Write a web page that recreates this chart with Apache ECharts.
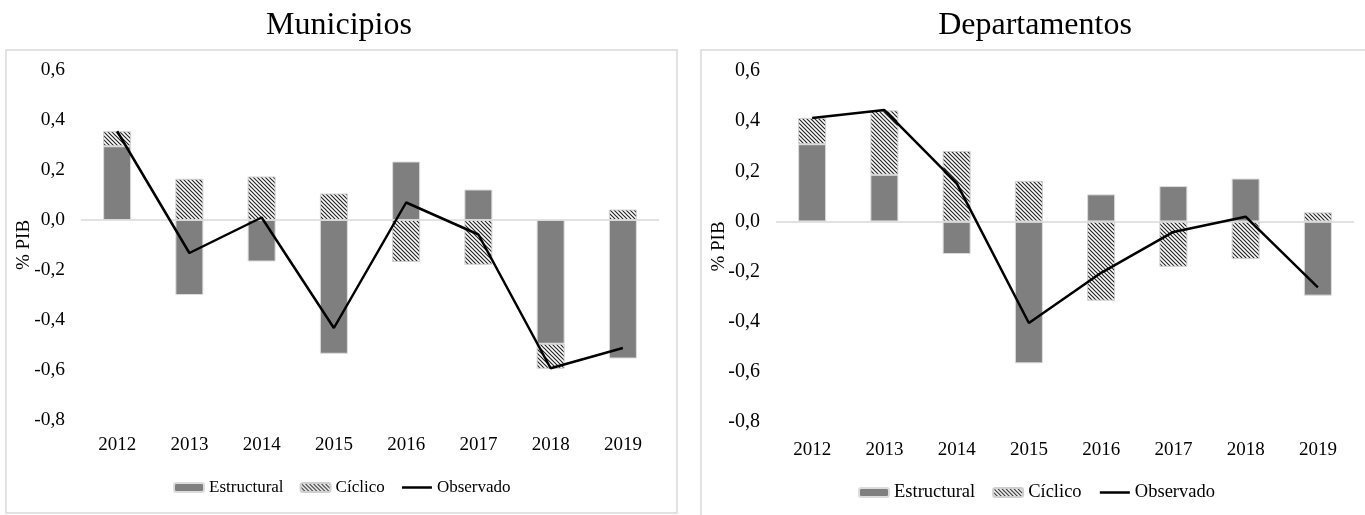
<!DOCTYPE html>
<html>
<head>
<meta charset="utf-8">
<script src="https://cdn.jsdelivr.net/npm/echarts@6/dist/echarts.min.js"></script>
<style>
  html, body { margin: 0; padding: 0; background: #fff; }
  #chart { width: 1365px; height: 515px; }
</style>
</head>
<body>
<div id="chart"></div>
<script>
// Balance fiscal: componentes estructural y cíclico (% del PIB)
const years = ['2012', '2013', '2014', '2015', '2016', '2017', '2018', '2019'];

const muniEstructural = [0.295, -0.300, -0.166, -0.535, 0.234, 0.122, -0.495, -0.554];
const muniCiclico     = [0.060, 0.165, 0.174, 0.106, -0.168, -0.179, -0.100, 0.042];
const muniObservado   = [0.355, -0.132, 0.010, -0.432, 0.070, -0.058, -0.593, -0.512];

const deptoEstructural = [0.308, 0.186, -0.130, -0.566, 0.108, 0.141, 0.171, -0.296];
const deptoCiclico     = [0.105, 0.257, 0.281, 0.162, -0.316, -0.181, -0.150, 0.036];
const deptoObservado   = [0.413, 0.444, 0.153, -0.405, -0.205, -0.042, 0.019, -0.263];

const panelTitles = ['Municipios', 'Departamentos'];
const seriesNames = ['Estructural', 'Cíclico', 'Observado'];

const FONT = '"Liberation Serif", "Times New Roman", serif';

// Fine diagonal hatch used for the cyclical component
function hatchCanvas() {
  const s = 4;
  const c = document.createElement('canvas');
  c.width = s; c.height = s;
  const g = c.getContext('2d');
  g.fillStyle = '#ffffff';
  g.fillRect(0, 0, s, s);
  g.strokeStyle = '#262626';
  g.lineWidth = 1.2;
  g.beginPath();
  g.moveTo(-1, -1); g.lineTo(s + 1, s + 1);
  g.moveTo(-1, s - 1); g.lineTo(1, s + 1);
  g.moveTo(s - 1, -1); g.lineTo(s + 1, 1);
  g.stroke();
  return c;
}
const hatch = { image: hatchCanvas(), repeat: 'repeat' };

function fmt(v) {
  return v.toFixed(1).replace('.', ',');
}

function xAxisFor(idx, margin) {
  return {
    type: 'category', gridIndex: idx, data: years,
    axisLine: { show: false }, axisTick: { show: false },
    axisLabel: { fontFamily: FONT, fontSize: 19, color: '#000', margin: margin }
  };
}
function yAxisFor(idx, labelSize) {
  return {
    type: 'value', gridIndex: idx, min: -0.8, max: 0.6, interval: 0.2,
    axisLine: { show: false }, axisTick: { show: false }, splitLine: { show: false },
    axisLabel: { fontFamily: FONT, fontSize: labelSize, color: '#000', margin: 16, formatter: fmt },
    name: '% PIB', nameLocation: 'middle', nameRotate: 90, nameGap: 47,
    nameMoveOverlap: false,
    nameTextStyle: { fontFamily: FONT, fontSize: 19, color: '#000' }
  };
}
function seriesFor(idx, est, cic, obs) {
  const stack = 'comp' + idx;
  return [
    {
      name: seriesNames[0], type: 'bar', xAxisIndex: idx, yAxisIndex: idx, stack: stack,
      barWidth: 28, data: est,
      itemStyle: { color: '#7f7f7f', borderColor: '#dcdcdc', borderWidth: 1 }
    },
    {
      name: seriesNames[1], type: 'bar', xAxisIndex: idx, yAxisIndex: idx, stack: stack,
      barWidth: 28, data: cic,
      itemStyle: { color: hatch, borderColor: '#d0d0d0', borderWidth: 1 }
    },
    {
      name: seriesNames[2], type: 'line', xAxisIndex: idx, yAxisIndex: idx, data: obs,
      symbol: 'none', lineStyle: { color: '#000', width: 2.5 }, itemStyle: { color: '#000' },
      z: 5,
      markLine: {
        silent: true, symbol: 'none', label: { show: false },
        lineStyle: { color: '#d9d9d9', type: 'solid', width: 1.5 },
        data: [{ yAxis: 0 }]
      }
    }
  ];
}
function legendFor(left, top, size, gap) {
  return {
    left: left, top: top, itemWidth: 30, itemHeight: 9, itemGap: gap,
    textStyle: { fontFamily: FONT, fontSize: size, color: '#000' },
    lineStyle: { width: 2.5 },
    data: [
      { name: seriesNames[0] },
      { name: seriesNames[1] },
      { name: seriesNames[2], itemStyle: { opacity: 0 } }
    ],
    selectedMode: false
  };
}

const chart = echarts.init(document.getElementById('chart'), null, { renderer: 'canvas' });
chart.setOption({
  animation: false,
  backgroundColor: '#ffffff',
  title: [
    { text: panelTitles[0], left: 334, top: 21, textAlign: 'center', textVerticalAlign: 'middle',
      textStyle: { fontFamily: FONT, fontSize: 32, fontWeight: 'normal', color: '#000' } },
    { text: panelTitles[1], left: 1030, top: 21, textAlign: 'center', textVerticalAlign: 'middle',
      textStyle: { fontFamily: FONT, fontSize: 32, fontWeight: 'normal', color: '#000' } }
  ],
  graphic: [
    { type: 'rect', silent: true, z: -10, shape: { x: 6, y: 50, width: 671, height: 463 },
      style: { fill: 'none', stroke: '#d9d9d9', lineWidth: 1.5 } },
    { type: 'rect', silent: true, z: -10, shape: { x: 701, y: 50, width: 700, height: 480 },
      style: { fill: 'none', stroke: '#d9d9d9', lineWidth: 1.5 } }
  ],
  legend: [
    Object.assign(legendFor(168, 474, 17, 16), { seriesIndex: [0, 1, 2] }),
    Object.assign(legendFor(853, 478, 18.5, 17), { seriesIndex: [3, 4, 5] })
  ],
  grid: [
    { left: 81, top: 70, width: 578, height: 350 },
    { left: 776, top: 71, width: 578, height: 351 }
  ],
  xAxis: [xAxisFor(0, 16), xAxisFor(1, 19)],
  yAxis: [yAxisFor(0, 19.5), yAxisFor(1, 20)],
  series: seriesFor(0, muniEstructural, muniCiclico, muniObservado)
    .concat(seriesFor(1, deptoEstructural, deptoCiclico, deptoObservado))
});
</script>
</body>
</html>
